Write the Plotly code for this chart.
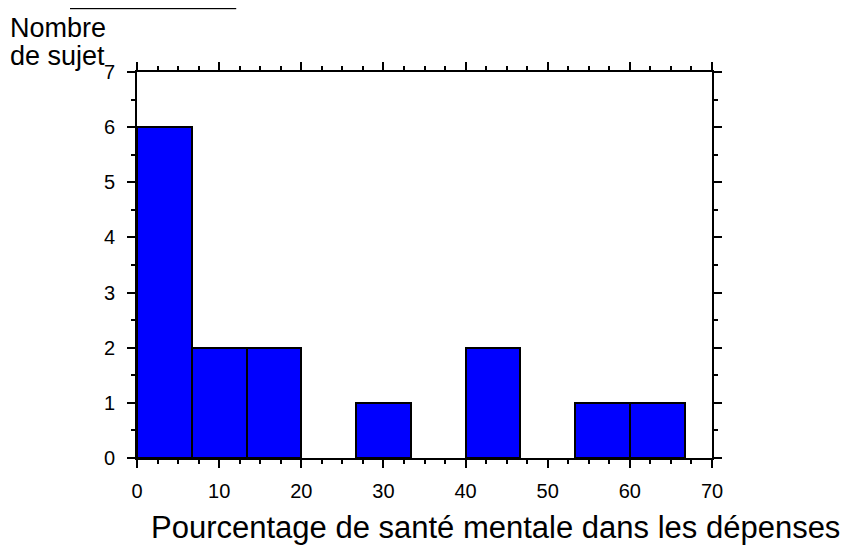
import plotly.graph_objects as go

# histogram bins (percentage) and counts
bin_left = [0, 6.667, 13.333, 20, 26.667, 33.333, 40, 46.667, 53.333, 60]
bin_width = 6.667
counts = [6, 2, 2, 0, 1, 0, 2, 0, 1, 1]

x_ticks = [0, 10, 20, 30, 40, 50, 60, 70]
y_ticks = [0, 1, 2, 3, 4, 5, 6, 7]

FONT = "Liberation Sans, Arial, sans-serif"

# empty bins are not drawn (they would just thicken the axis line)
bars = [(b + bin_width / 2, c) for b, c in zip(bin_left, counts) if c > 0]

fig = go.Figure()

fig.add_trace(
    go.Bar(
        x=[b[0] for b in bars],
        y=[b[1] for b in bars],
        width=bin_width,
        marker=dict(color="#0000ff", line=dict(color="black", width=2)),
        showlegend=False,
    )
)

axis_common = dict(
    showline=True,
    linecolor="black",
    linewidth=2,
    mirror="ticks",
    ticks="outside",
    ticklen=8,
    tickwidth=2,
    tickcolor="black",
    showgrid=False,
    zeroline=False,
    tickfont=dict(family=FONT, size=20, color="black"),
)

fig.update_layout(
    width=860,
    height=546,
    plot_bgcolor="white",
    paper_bgcolor="white",
    margin=dict(l=129, r=156, t=64, b=96),
    bargap=0,
    xaxis=dict(
        range=[0, 70],
        tickvals=x_ticks,
        ticklabelstandoff=6,
        minor=dict(dtick=2.5, ticks="outside", ticklen=4, tickwidth=2, tickcolor="black"),
        **axis_common,
    ),
    yaxis=dict(
        range=[0, 7],
        tickvals=y_ticks,
        ticklabelstandoff=8,
        minor=dict(dtick=0.5, ticks="outside", ticklen=4, tickwidth=2, tickcolor="black"),
        **axis_common,
    ),
)

# y axis label, top-left, two tight lines
for line, ypx in [("Nombre", 28), ("de sujet", 56)]:
    fig.add_annotation(
        text=line,
        xref="paper", yref="paper",
        x=(8 - 137) / 575, y=(458 - ypx) / 386,
        xanchor="left", yanchor="middle", align="left",
        showarrow=False,
        font=dict(family=FONT, size=27, color="black"),
    )

# x axis label
fig.add_annotation(
    text="Pourcentage de santé mentale dans les dépenses",
    xref="paper", yref="paper",
    x=(495 - 137) / 575, y=(458 - 527) / 386,
    xanchor="center", yanchor="middle",
    showarrow=False,
    font=dict(family=FONT, size=31, color="black"),
)

# clipped title at the very top
fig.add_annotation(
    text="<u>l'échantillon</u>",
    xref="paper", yref="paper",
    x=(153 - 137) / 575, y=(458 - 13) / 386,
    xanchor="center", yanchor="bottom",
    showarrow=False,
    font=dict(family=FONT, size=32, color="black"),
)

fig.write_html("out.html")
